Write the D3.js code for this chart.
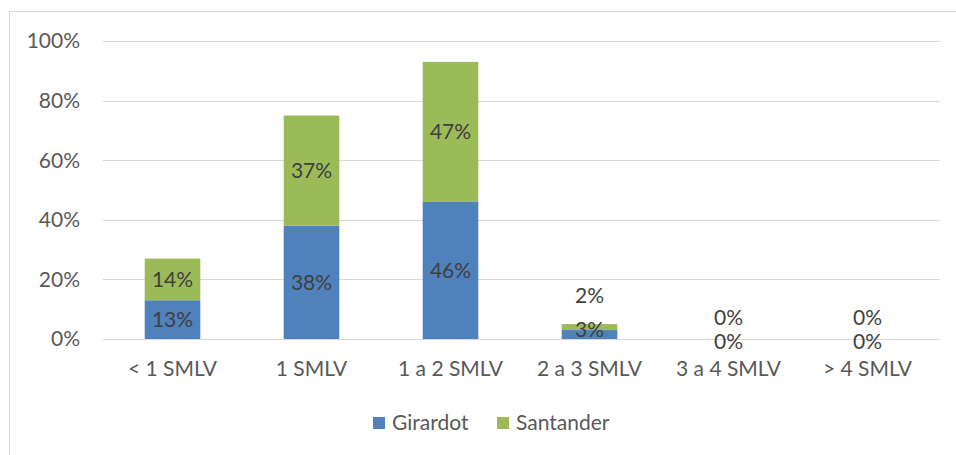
<!DOCTYPE html>
<html><head><meta charset="utf-8">
<script src="https://cdn.jsdelivr.net/npm/d3@7/dist/d3.min.js"></script>
<style>body{margin:0;background:#fff}svg{display:block}text{font-family:Lato,"Open Sans",sans-serif}</style>
</head><body><svg id="c" width="956" height="455"></svg>
<script>
const categories = ["< 1 SMLV","1 SMLV","1 a 2 SMLV","2 a 3 SMLV","3 a 4 SMLV","> 4 SMLV"];
const girardot = [13,38,46,3,0,0];
const santander = [14,37,47,2,0,0];
const seriesNames = ["Girardot","Santander"];
const yTicks = [0,20,40,60,80,100];
const colors = ["#4F81BD","#9BBB59"];
const FS = 21;

const svg = d3.select("#c");
svg.append("rect").attr("x",9.5).attr("y",11.5).attr("width",960).attr("height",460)
  .attr("fill","none").attr("stroke","#D9D9D9").attr("stroke-width",1);

const x = d3.scaleBand().domain(categories).range([103,937]).paddingInner(0.6).paddingOuter(0.3);
const y = d3.scaleLinear().domain([0,100]).range([339,41]);

svg.append("g").selectAll("line").data(yTicks).join("line")
  .attr("x1",103).attr("x2",940).attr("y1",d=>Math.round(y(d))+0.5).attr("y2",d=>Math.round(y(d))+0.5)
  .attr("stroke","#D9D9D9").attr("stroke-width",1);

svg.append("g").selectAll("text").data(yTicks).join("text")
  .attr("x",80).attr("y",d=>y(d)).attr("dy","0.35em").attr("text-anchor","end")
  .attr("font-size",FS).attr("fill","#595959").text(d=>d+"%");

const data = categories.map((c,i)=>({cat:c, g:girardot[i], s:santander[i]}));
const stack = d3.stack().keys(["g","s"])(data);

const gBars = svg.append("g");
stack.forEach((layer,li)=>{
  gBars.selectAll(null).data(layer).join("rect")
    .attr("x",d=>x(d.data.cat)).attr("width",x.bandwidth())
    .attr("y",d=>y(d[1])).attr("height",d=>y(d[0])-y(d[1]))
    .attr("fill",colors[li]);
});

const lab = svg.append("g");
data.forEach((d,i)=>{
  const cx = x(d.cat)+x.bandwidth()/2;
  let gy = (y(0)+y(d.g))/2;
  let sy = (y(d.g)+y(d.g+d.s))/2;
  const gh = y(0)-y(d.g), sh = y(d.g)-y(d.g+d.s);
  if (d.g+d.s===0) { gy = y(0)+3; sy = y(0)-21; }
  else if (gh<20 || sh<20) { gy = y(d.g+d.s)+6; sy = y(d.g+d.s)-28; }
  lab.append("text").attr("x",cx).attr("y",gy).attr("dy","0.35em").attr("text-anchor","middle")
    .attr("font-size",FS).attr("fill","#404040").text(d.g+"%");
  lab.append("text").attr("x",cx).attr("y",sy).attr("dy","0.35em").attr("text-anchor","middle")
    .attr("font-size",FS).attr("fill","#404040").text(d.s+"%");
});

svg.append("g").selectAll("text").data(categories).join("text")
  .attr("x",d=>x(d)+x.bandwidth()/2).attr("y",369).attr("dy","0.35em").attr("text-anchor","middle")
  .attr("font-size",FS).attr("fill","#595959").text(d=>d);

const leg = svg.append("g");
const legX = [373, 497];
seriesNames.forEach((n,i)=>{
  leg.append("rect").attr("x",legX[i]).attr("y",417).attr("width",12).attr("height",12).attr("fill",colors[i]);
  leg.append("text").attr("x",legX[i]+19).attr("y",423).attr("dy","0.35em")
    .attr("font-size",FS).attr("fill","#595959").text(n);
});
</script></body></html>
